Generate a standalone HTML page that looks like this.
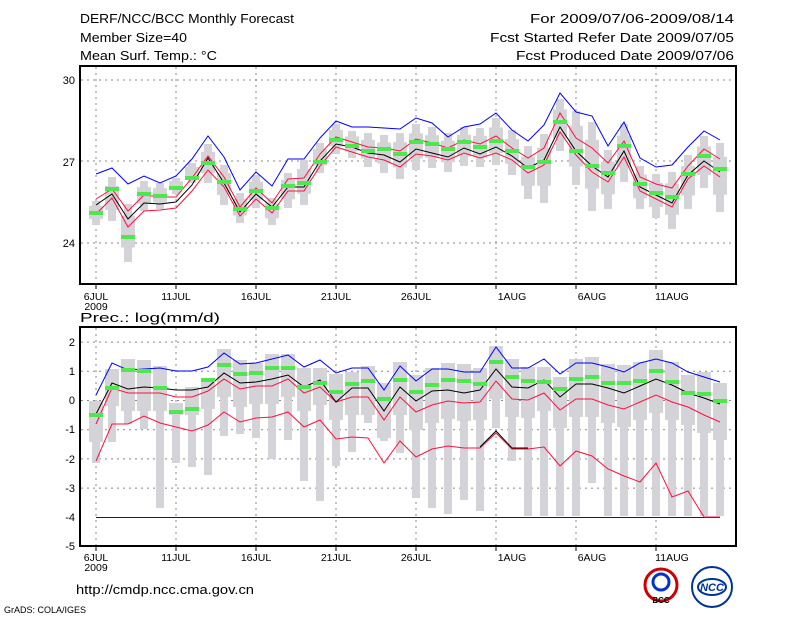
<!DOCTYPE html>
<html><head><meta charset="utf-8"><style>
body{margin:0;background:#fff;width:800px;height:618px;overflow:hidden}
svg{display:block}
text{font-family:"Liberation Sans",sans-serif;fill:#000}
</style></head><body>
<svg id="s" width="800" height="618" xmlns="http://www.w3.org/2000/svg">
<g font-size="12.5">
<text x="80" y="23" textLength="214" lengthAdjust="spacingAndGlyphs">DERF/NCC/BCC Monthly Forecast</text>
<text x="80" y="42" textLength="107" lengthAdjust="spacingAndGlyphs">Member Size=40</text>
<text x="80" y="60" textLength="137" lengthAdjust="spacingAndGlyphs">Mean Surf. Temp.: °C</text>
<text x="530" y="23" textLength="204" lengthAdjust="spacingAndGlyphs">For 2009/07/06-2009/08/14</text>
<text x="490" y="42" textLength="244" lengthAdjust="spacingAndGlyphs">Fcst Started Refer Date 2009/07/05</text>
<text x="516" y="60" textLength="218" lengthAdjust="spacingAndGlyphs">Fcst Produced Date 2009/07/06</text>
</g>
<g font-size="11" text-anchor="end">
<text x="75" y="84">30</text><text x="75" y="166">27</text><text x="75" y="247">24</text>
<text x="75" y="346">2</text><text x="75" y="375">1</text><text x="75" y="404">0</text>
<text x="75" y="433">-1</text><text x="75" y="463">-2</text><text x="75" y="492">-3</text>
<text x="75" y="521">-4</text><text x="75" y="550">-5</text>
</g>
<g font-size="10.5" text-anchor="middle" id="xl"></g>
<text x="80" y="322" font-size="12.5" textLength="140" lengthAdjust="spacingAndGlyphs">Prec.: log(mm/d)</text>
<text x="76" y="594" font-size="12.5" textLength="178" lengthAdjust="spacingAndGlyphs">http://cmdp.ncc.cma.gov.cn</text>
<text x="4" y="613" font-size="9">GrADS: COLA/IGES</text>
<g id="g"></g>
<circle cx="661" cy="585" r="16" fill="#fff" stroke="#c00" stroke-width="3"/>
<circle cx="661" cy="582" r="8" fill="none" stroke="#03c" stroke-width="3"/>
<text x="661" y="603" font-size="8" text-anchor="middle" font-weight="bold">BCC</text>
<circle cx="712" cy="587" r="20" fill="#fff" stroke="#039" stroke-width="2"/>
<ellipse cx="712" cy="587" rx="14" ry="8" fill="none" stroke="#039" stroke-width="2"/>
<text x="712" y="591" font-size="11" text-anchor="middle" font-style="italic" font-weight="bold" style="fill:#039">NCC</text>
</svg>
<script>
var g=document.getElementById('g'),h='';
function X(d){return 96+16*d}
function pl(a,c){var p=a.map(function(v,i){return X(i)+','+v}).join(' ');h+='<polyline points="'+p+'" fill="none" stroke="'+c+'" stroke-width="1"/>';}
var T={bu:[174,168,184,176,183,176,159,136,157,190,172,186,159,159,138,121,127,127,128,129,118,123,137,127,124,113,130,141,125,93,112,116,146,122,158,167,165,147,131,140],
ru:[199,189,211,195,197,197,178,156,177,207,188,203,179,178,154,137,142,147,148,151,139,143,148,140,144,136,148,158,148,113,138,148,163,141,177,184,188,166,149,159],
bk:[205,194,219,203,204,202,185,158,183,212,194,207,187,187,161,144,147,153,155,162,149,153,157,148,154,147,156,168,160,127,151,166,177,151,187,195,203,175,161,172],
rl:[214,198,227,211,210,208,191,170,187,216,199,213,191,191,166,147,152,157,160,167,154,156,160,153,158,153,160,173,165,132,155,172,182,157,191,199,207,179,166,177],
bl:[228,221,249,226,225,223,213,191,210,233,214,233,212,213,191,167,169,184,186,197,183,181,178,174,190,182,190,200,203,167,205,225,214,187,222,230,247,215,195,212],
gr:[213,189,237,194,196,188,178,163,182,209,191,208,186,183,162,140,146,151,149,154,142,144,149,142,147,141,151,167,162,122,151,166,173,146,184,193,197,174,156,169],
t:[201,177,204,181,183,178,163,144,165,193,175,198,173,160,143,124,131,133,135,133,124,127,133,127,128,118,130,146,134,99,111,122,150,124,166,174,172,155,136,143],
b:[225,221,262,211,209,194,183,183,205,223,208,225,208,205,173,154,158,167,173,179,170,168,172,166,167,165,175,199,203,151,185,211,209,182,209,218,229,209,188,212]};
var B={bu:[395,363,370,369,368,371,371,367,353,364,363,359,355,367,360,373,368,368,390,366,381,369,369,372,372,347,368,368,359,374,363,363,367,372,363,359,363,372,377,382],
bk:[414,383,389,387,388,390,390,387,373,383,382,379,375,387,380,402,388,388,411,387,401,391,390,393,390,369,387,388,380,397,384,384,388,393,386,379,385,393,398,404],
ru:[424,388,393,393,393,397,397,391,379,389,386,386,379,393,387,402,397,397,420,397,412,405,401,403,402,381,399,400,393,410,399,399,405,409,402,395,402,407,415,422],
rl:[461,424,424,416,423,427,431,425,412,422,418,417,412,427,420,439,437,438,463,441,457,449,446,448,448,433,449,449,447,466,451,456,469,476,482,463,497,491,517,517],
gr:[415,388,370,371,388,412,409,380,365,374,373,368,368,387,383,392,384,381,399,380,392,385,380,381,384,362,377,381,382,389,379,377,383,383,381,371,382,393,394,401],
t:[401,369,359,360,366,403,387,378,349,360,363,354,354,368,368,374,372,366,383,362,375,368,363,364,368,346,359,367,367,377,359,357,364,365,362,350,362,375,372,383],
b:[463,442,424,429,508,463,467,475,436,434,438,459,440,481,501,466,452,423,441,453,498,508,514,500,511,428,461,516,516,516,516,483,516,516,516,516,516,516,516,516]};
var gs='stroke="#888" stroke-width="1" stroke-dasharray="2,4"';
[80,161,243].forEach(function(y){h+='<line x1="81" x2="735" y1="'+y+'" y2="'+y+'" '+gs+'/>'});
for(var v=2;v>=-4;v--){var y=400.5-29.2*v;if(v!=-4)h+='<line x1="81" x2="735" y1="'+y+'" y2="'+y+'" '+gs+'/>'}
for(var d=0;d<40;d+=5){h+='<line x1="'+X(d)+'" x2="'+X(d)+'" y1="67" y2="283" '+gs+'/><line x1="'+X(d)+'" x2="'+X(d)+'" y1="328" y2="545" '+gs+'/>'}
function bars(D,top){for(var i=0;i<40;i++){var a=D.t[i],b=D.b[i],x=X(i);
h+='<rect x="'+(x-4)+'" y="'+a+'" width="8" height="'+(b-a)+'" fill="#d4d4d8"/>';
var wa,wb;if(top){wa=a+(b-a)*0.2;wb=b-(b-a)*0.25}else{wa=a;wb=Math.min(b,D.ru[i]+18)}
h+='<rect x="'+(x-7)+'" y="'+wa+'" width="14" height="'+(wb-wa)+'" fill="#d4d4d8"/>';}}
bars(T,1);bars(B,0);
h+='<line x1="96" x2="720" y1="517.5" y2="517.5" stroke="#1a1a60" stroke-width="1"/>';
pl(T.bu,'#0000ff');pl(T.ru,'#ff1040');pl(T.rl,'#ff1040');pl(T.bk,'#000');
pl(B.bu,'#0000ff');pl(B.ru,'#ff1040');pl(B.rl,'#ff1040');pl(B.bk,'#000');
h+='<polyline points="480,447 496,431 512,448 528,448" fill="none" stroke="#000"/>';
[T.gr,B.gr].forEach(function(G){G.forEach(function(y,i){h+='<rect x="'+(X(i)-7)+'" y="'+(y-2)+'" width="14" height="4" fill="#4ee84e"/>'})});
h+='<rect x="80" y="66" width="656" height="218" fill="none" stroke="#000" stroke-width="2"/>';
h+='<rect x="80" y="327" width="656" height="219" fill="none" stroke="#000" stroke-width="2"/>';
g.innerHTML=h;
var xl='';
for(var i=0;i<8;i++){var x=X(i*5);xl+='<line x1="'+x+'" x2="'+x+'" y1="284" y2="289" stroke="#000"/><line x1="'+x+'" x2="'+x+'" y1="546" y2="551" stroke="#000"/>'}
document.getElementById('xl').innerHTML=xl;
</script>
<svg style="position:absolute;left:0;top:0" width="800" height="618">
<g font-family="Liberation Sans" font-size="10.5" text-anchor="middle">
<text x="96" y="300">6JUL</text><text x="176" y="300">11JUL</text><text x="256" y="300">16JUL</text><text x="336" y="300">21JUL</text><text x="416" y="300">26JUL</text><text x="512" y="300">1AUG</text><text x="592" y="300">6AUG</text><text x="672" y="300">11AUG</text>
<text x="96" y="310">2009</text>
<text x="96" y="561">6JUL</text><text x="176" y="561">11JUL</text><text x="256" y="561">16JUL</text><text x="336" y="561">21JUL</text><text x="416" y="561">26JUL</text><text x="512" y="561">1AUG</text><text x="592" y="561">6AUG</text><text x="672" y="561">11AUG</text>
<text x="96" y="571">2009</text>
</g></svg>
</body></html>
